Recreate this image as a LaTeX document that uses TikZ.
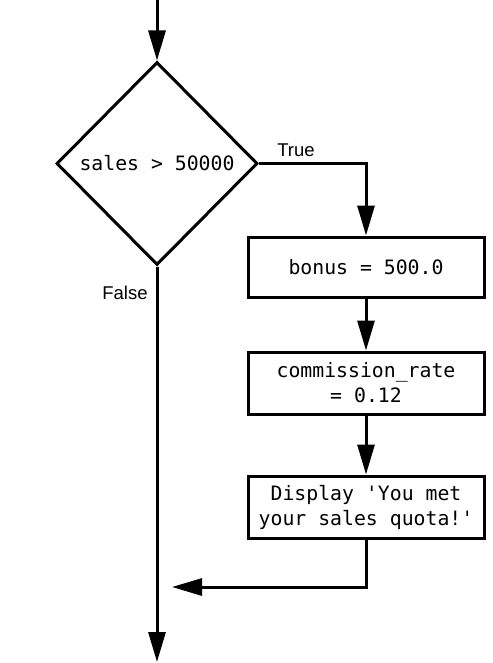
\documentclass[tikz,border=0pt]{standalone}
\usepackage{fontspec}
\setmainfont{Liberation Sans}
\setmonofont{DejaVu Sans Mono}
\usetikzlibrary{shapes.geometric,arrows.meta}
\begin{document}
\begin{tikzpicture}[x=1pt,y=-1pt,
  line width=3pt, line join=miter,
  arr/.style={-{Triangle[length=30pt,width=17pt]}},
  decbox/.style={draw, shape=diamond, inner sep=0pt, minimum width=201pt, minimum height=203pt,
     font=\fontsize{19.8}{25}\selectfont\ttfamily},
  procbox/.style={draw, rectangle, inner sep=0pt, minimum width=236pt, align=center,
     font=\fontsize{19.8}{25}\selectfont\ttfamily},
  lbl/.style={font=\fontsize{18.5}{22}\selectfont, inner sep=0pt}]
\useasboundingbox (0,0) rectangle (492,663);
\node[decbox] (dec) at (157,163.5) {sales > 50000};
\node[procbox, minimum height=60pt] (b1) at (366,267) {bonus = 500.0};
\node[procbox, minimum height=62pt] (b2) at (366,383) {commission\_rate\\= 0.12};
\node[procbox, minimum height=62pt] (b3) at (366,507) {Display 'You met\\your sales quota!'};
\coordinate (top) at (157,0);
\coordinate (bot) at (157,662);
\coordinate (join) at (172,587);
\node[lbl] (true) at (296,150) {True};
\node[lbl] (false) at (125,293) {False};
\draw[arr] (top) -- (dec.north);
\draw[arr] (dec.east) -| (b1.north);
\draw[arr] (b1) -- (b2);
\draw[arr] (b2) -- (b3);
\draw[arr] (b3.south) |- (join);
\draw[arr] (dec.south) -- (bot);
\end{tikzpicture}
\end{document}
